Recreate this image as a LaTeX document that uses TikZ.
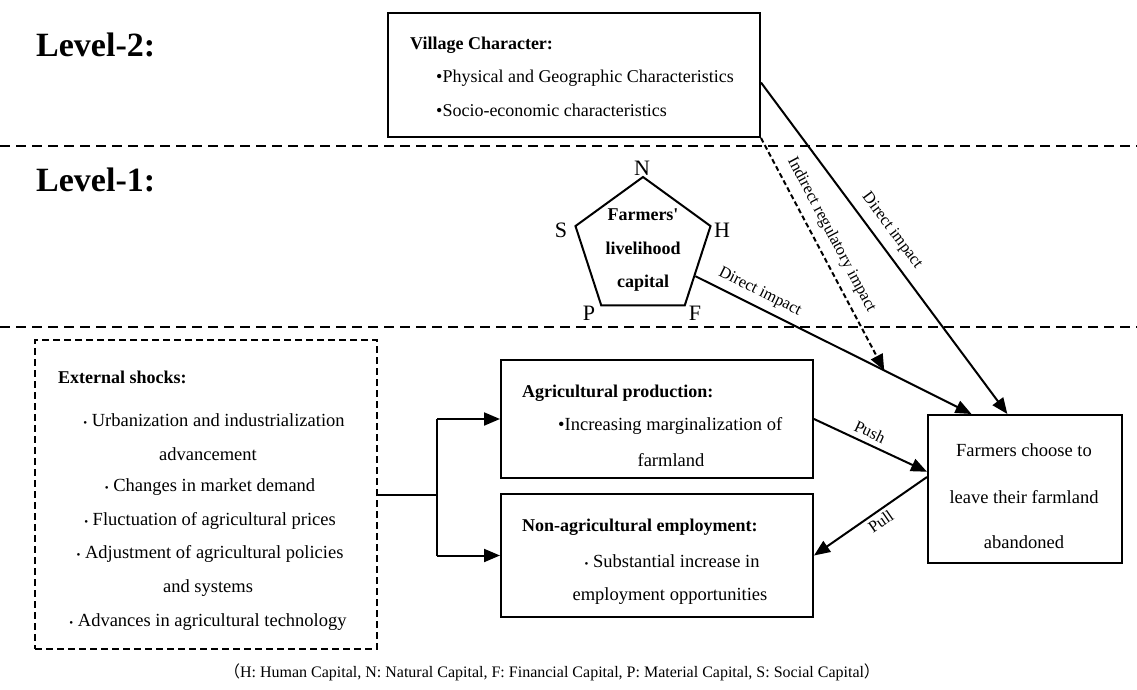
\documentclass[tikz,border=0pt]{standalone}
\usepackage{fontspec}
\setmainfont{Liberation Serif}
\newfontfamily\cjkfont{Noto Sans CJK SC}
\usetikzlibrary{arrows.meta,shapes.geometric,calc}
\begin{document}
\begin{tikzpicture}[x=1pt,y=-1pt,
  box/.style={draw,line width=2pt,inner sep=0pt},
  dbox/.style={draw,line width=2pt,inner sep=0pt,dash pattern=on 7pt off 4pt},
  sepline/.style={line width=2pt,dash pattern=on 10pt off 6pt},
  conn/.style={line width=2pt,-{Triangle[length=16pt,width=13pt]}},
  plain/.style={line width=2pt},
  txt/.style={font=\fontsize{18.5}{21}\selectfont,inner sep=0pt},
  btxt/.style={font=\fontsize{18}{21}\selectfont\bfseries,inner sep=0pt},
  lvl/.style={font=\fontsize{34}{38}\selectfont\bfseries,inner sep=0pt,anchor=west},
  lab/.style={font=\fontsize{16.5}{18}\selectfont,sloped},
  cornerlab/.style={font=\fontsize{22}{24}\selectfont,inner sep=0pt}
]
\useasboundingbox (0,0) rectangle (1137,690);

% level labels and separators
\node[lvl] (lv2) at (36,45) {Level-2:};
\node[lvl] (lv1) at (36,180) {Level-1:};
\draw[sepline] (0,146) -- (1137,146);
\draw[sepline] (0,327) -- (1137,327);

% village box
\node[box,minimum width=372pt,minimum height=124pt] (village) at (574,75) {};
\node[btxt,anchor=west] (vt0) at (410,45) {Village Character:};
\node[txt,anchor=west,font=\fontsize{18}{21}\selectfont] (vt1) at (436,78) {•Physical and Geographic Characteristics};
\node[txt,anchor=west,font=\fontsize{18}{21}\selectfont] (vt2) at (436,110) {•Socio-economic characteristics};

% pentagon
\node[draw,line width=2pt,regular polygon,regular polygon sides=5,minimum size=142pt,inner sep=0pt] (pent) at (643,248) {};
\node[btxt] (pt1) at (643,215) {Farmers\textquotesingle};
\node[btxt] (pt2) at (643,248) {livelihood};
\node[btxt] (pt3) at (643,283) {capital};
\node[cornerlab] (lN) at (642,168) {N};
\node[cornerlab] (lS) at (561,230) {S};
\node[cornerlab] (lH) at (722,230) {H};
\node[cornerlab] (lP) at (589,313) {P};
\node[cornerlab] (lF) at (695,313) {F};

% external shocks
\node[dbox,minimum width=342pt,minimum height=309pt] (ext) at (206,494.5) {};
\node[btxt,anchor=west] (e0) at (58,377) {External shocks:};
\node[txt] (e1) at (214,420) {{\fontsize{11}{11}\selectfont •} Urbanization and industrialization};
\node[txt] (e2) at (208,454) {advancement};
\node[txt] (e3) at (210,487) {{\fontsize{11}{11}\selectfont •} Changes in market demand};
\node[txt] (e4) at (210,521) {{\fontsize{11}{11}\selectfont •} Fluctuation of agricultural prices};
\node[txt] (e5) at (210,554) {{\fontsize{11}{11}\selectfont •} Adjustment of agricultural policies};
\node[txt] (e6) at (208,588) {and systems};
\node[txt] (e7) at (208,622) {{\fontsize{11}{11}\selectfont •} Advances in agricultural technology};

% agricultural production
\node[box,minimum width=312pt,minimum height=118pt] (agri) at (657,419) {};
\node[btxt,anchor=west] (a0) at (522,393) {Agricultural production:};
\node[txt,anchor=west] (a1) at (558,426) {•Increasing marginalization of};
\node[txt] (a2) at (671,460) {farmland};

% non-agricultural employment
\node[box,minimum width=312pt,minimum height=123pt] (nonag) at (657,555.5) {};
\node[btxt,anchor=west] (n0) at (522,527) {Non-agricultural employment:};
\node[txt] (n1) at (672,561) {{\fontsize{11}{11}\selectfont •} Substantial increase in};
\node[txt] (n2) at (670,596) {employment opportunities};

% farmers choose box
\node[box,minimum width=194pt,minimum height=148pt] (farm) at (1025,489) {};
\node[txt] (f1) at (1024,450) {Farmers choose to};
\node[txt] (f2) at (1024,497) {leave their farmland};
\node[txt] (f3) at (1024,542) {abandoned};

% connectors: external shocks split
\coordinate (split) at (437,494.5);
\draw[plain] (ext.east) -- (split);
\draw[plain] (split |- agri.west) -- (split |- nonag.west);
\draw[conn] (split |- agri.west) -- (agri.west);
\draw[conn] (split |- nonag.west) -- (nonag.west);

% push / pull
\coordinate (pushend) at ($(farm.north west)!0.385!(farm.south west)$);
\coordinate (pullstart) at ($(farm.north west)!0.42!(farm.south west)$);
\draw[conn] (agri.east) -- node[lab,above=2pt,pos=0.45] {Push} (pushend);
\draw[conn] (pullstart) -- node[lab,below,pos=0.46] {Pull} (nonag.east);

% direct impact from pentagon
\coordinate (pstart) at ($(pent.corner 5)!0.625!(pent.corner 4)$);
\coordinate (ftop1) at ($(farm.north west)!0.227!(farm.north east)$);
\draw[conn] (pstart) -- node[lab,above=3pt,pos=0.21] {Direct impact} (ftop1);
\coordinate (mid) at ($(pstart)!0.684!(ftop1)$);

% direct impact from village
\coordinate (vstart) at ($(village.north east)!0.56!(village.south east)$);
\coordinate (ftop2) at ($(farm.north west)!0.41!(farm.north east)$);
\draw[conn] (vstart) -- node[lab,above=5pt,pos=0.477] {Direct impact} (ftop2);

% indirect regulatory impact
\draw[conn,dash pattern=on 5pt off 3pt] (village.south east) -- node[lab,above=5pt,pos=0.45] {Indirect regulatory impact} (mid);

% footnote
\node[txt,font=\fontsize{16}{18}\selectfont] (note) at (552,672) {{\cjkfont （}H: Human Capital, N: Natural Capital, F: Financial Capital, P: Material Capital, S: Social Capital{\cjkfont ）}};
\end{tikzpicture}
\end{document}
